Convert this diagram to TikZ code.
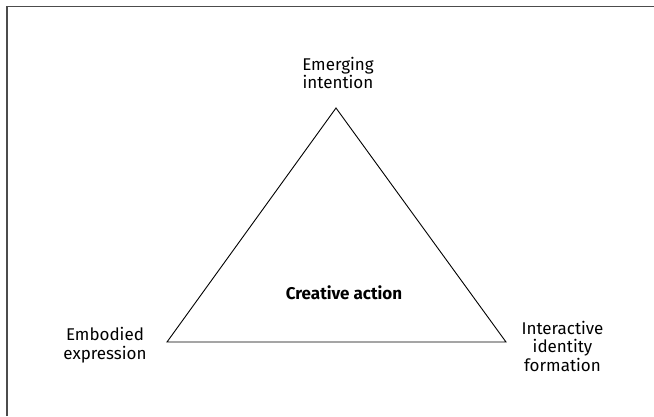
\documentclass[tikz,border=0pt]{standalone}
\usepackage{fontspec}
\setmainfont{Fira Sans}
\begin{document}
\begin{tikzpicture}[x=1pt,y=-1pt,
  lbl/.style={align=center,font=\fontsize{17}{18.5}\selectfont,inner sep=0pt,anchor=base},
  frameline/.style={draw=black!70,line width=1.5pt}]
\useasboundingbox (0,0) rectangle (654,416);
\fill[white] (0,0) rectangle (654,416);
\coordinate (fa) at (7,416);
\coordinate (fb) at (7,6.5);
\coordinate (fc) at (654,6.5);
\draw[frameline] (fa) -- (fb) -- (fc);
\coordinate (top) at (336,108);
\coordinate (bl) at (167,342);
\coordinate (br) at (506,342);
\draw[line width=0.9pt,line join=miter] (top) -- (br) -- (bl) -- cycle;
\node[lbl] (emerg) at (338,88.5) {Emerging\\intention};
\node[lbl] (embod) at (105,359) {Embodied\\expression};
\node[lbl] (inter) at (562.5,371) {Interactive\\identity\\formation};
\node[lbl,font=\fontsize{17}{18.5}\selectfont\bfseries] (crea) at (344,299) {Creative action};
\end{tikzpicture}
\end{document}
